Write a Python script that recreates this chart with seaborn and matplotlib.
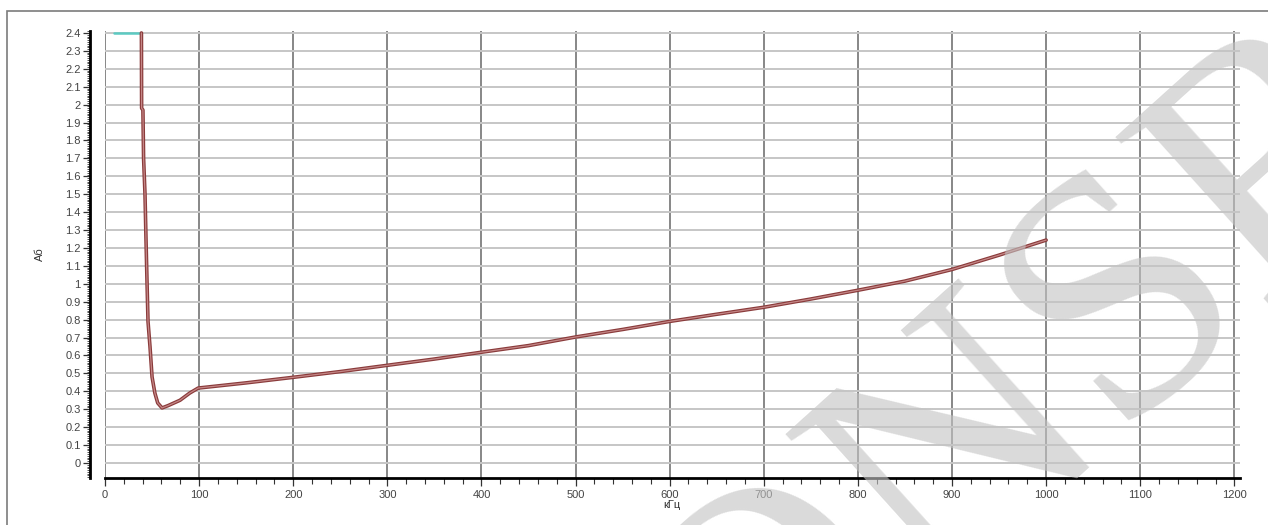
import numpy as np
import pandas as pd
import matplotlib
matplotlib.use("Agg")
import matplotlib.pyplot as plt
import seaborn as sns
from matplotlib.ticker import MultipleLocator, FuncFormatter
from matplotlib.patches import Rectangle

# Frequency response, attenuation (Аб) versus frequency (кГц)
freq_khz = [38.7, 38.9, 40.3, 41.0, 42.5, 43.6, 44.6, 45.7, 47.8, 50.0, 53.0,
            56.0, 60.6, 67.0, 79.7, 90.0, 99.0, 150, 200, 250, 300, 350, 400,
            450, 500, 550, 600, 650, 700, 750, 800, 850, 900, 950, 1000]
attenuation = [2.40, 1.98, 1.97, 1.70, 1.50, 1.24, 1.02, 0.79, 0.65, 0.48, 0.39,
               0.335, 0.307, 0.32, 0.35, 0.39, 0.418, 0.447, 0.478, 0.51, 0.545,
               0.58, 0.618, 0.655, 0.703, 0.745, 0.79, 0.83, 0.869, 0.915, 0.964,
               1.015, 1.08, 1.16, 1.244]

# Saturated segment at the top of the scale
sat_freq = [10, 37.5]
sat_level = [2.4, 2.4]

y_ticks = [round(v, 1) for v in np.arange(0, 2.41, 0.1)]
x_ticks = list(range(0, 1201, 100))

curve = pd.DataFrame({"f": freq_khz, "a": attenuation})
sat = pd.DataFrame({"f": sat_freq, "a": sat_level})

sns.set_style("ticks")
plt.rcParams["font.family"] = ["Liberation Sans", "DejaVu Sans"]

W, H = 1268, 525
fig = plt.figure(figsize=(W / 100, H / 100), dpi=100)
fig.patch.set_facecolor("white")

# Panel frame
fig.add_artist(Rectangle((7 / W, -0.1), 2, (H - 11) / H + 0.1,
                         transform=fig.transFigure, fill=False,
                         ec="#7c7c7c", lw=1.2))

ax = fig.add_axes([105 / W, 47 / H, 1135 / W, 447 / H])
ax.set_facecolor("white")

sns.lineplot(data=sat, x="f", y="a", ax=ax, color="#5ccac2", lw=1.8,
             sort=False, estimator=None)
sns.lineplot(data=curve, x="f", y="a", ax=ax, color="#8a3b3b", lw=2.6,
             sort=False, estimator=None)
sns.lineplot(data=curve, x="f", y="a", ax=ax, color="#c58787", lw=0.9,
             sort=False, estimator=None)

ax.set_xlim(0, 1206)
ax.set_ylim(-0.084, 2.411)
ax.set_xticks(x_ticks)
ax.set_yticks(y_ticks)
ax.xaxis.set_minor_locator(MultipleLocator(20))
ax.yaxis.set_minor_locator(MultipleLocator(0.01))
ax.yaxis.set_major_formatter(FuncFormatter(lambda v, p: f"{v:g}"))

ax.set_axisbelow(True)
ax.yaxis.grid(True, which="major", color="#c6c6c6", lw=1.4)
ax.xaxis.grid(True, which="major", color="#878787", lw=1.4)

for s in ("top", "right"):
    ax.spines[s].set_visible(False)
ax.spines["left"].set_position(("outward", 11))
for s in ("left", "bottom"):
    ax.spines[s].set_linewidth(2.0)
    ax.spines[s].set_color("black")

ax.tick_params(axis="y", which="major", length=5, width=0.9, color="#333333",
               labelsize=8, labelcolor="#444444", pad=1.5)
ax.tick_params(axis="y", which="minor", length=2.5, width=0.6, color="#333333")
ax.tick_params(axis="x", which="major", length=6, width=0.9, color="#333333",
               labelsize=8, labelcolor="#444444", pad=3)
ax.tick_params(axis="x", which="minor", length=4, width=0.8, color="#333333")
ax.set_xlabel("")
ax.set_ylabel("")

fig.text(672 / W, 1 - 505 / H, "кГц", ha="center", va="center",
         fontsize=8, color="#333333")
fig.text(40 / W, 1 - 254 / H, "Аб", ha="center", va="center",
         fontsize=8, color="#333333", rotation=90)

# Background stamp
fig.text(1030 / W, 1 - 395 / H, "ONSR", ha="center", va="center",
         rotation=42, fontsize=250, color="#c4c4c4", alpha=0.62,
         family=["Liberation Serif", "DejaVu Serif"], zorder=5)

fig.savefig("out.png", dpi=100)
